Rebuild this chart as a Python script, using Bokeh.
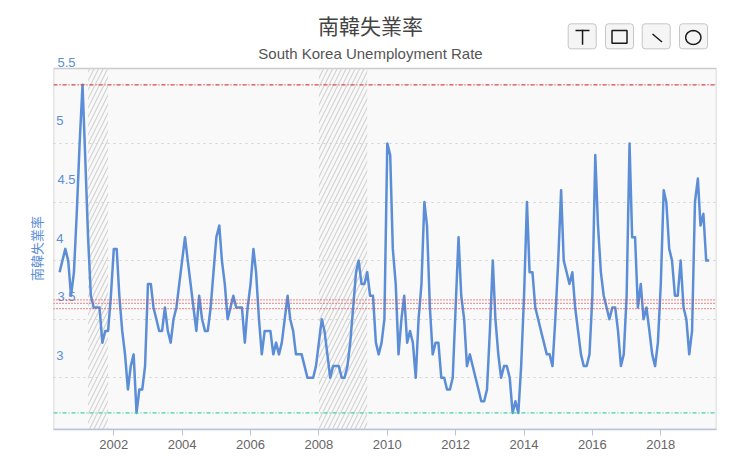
import math
import pandas as pd
from bokeh.plotting import figure
from bokeh.layouts import row
from bokeh.models import (Range1d, LinearAxis, FixedTicker, Span, BoxAnnotation,
                          PolyAnnotation, Label, DatetimeTickFormatter, NumeralTickFormatter)
from bokeh.embed import file_html
from bokeh.resources import INLINE

# ---------------- data ----------------
title_zh = "南韓失業率"
subtitle_en = "South Korea Unemployment Rate"
axis_name = "南韓失業率"
start_month = "2000-06-01"

rate_2000 = [3.9, 4.0, 4.1, 4.0, 3.7, 3.9, 4.4]
rate_2001 = [5.0, 5.5, 4.9, 4.2, 3.7, 3.6, 3.6, 3.6, 3.3, 3.4, 3.4, 3.7]
rate_2002 = [4.1, 4.1, 3.7, 3.4, 3.2, 2.9, 3.1, 3.2, 2.7, 2.9, 2.9, 3.1]
rate_2003 = [3.8, 3.8, 3.6, 3.5, 3.4, 3.4, 3.6, 3.4, 3.3, 3.5, 3.6, 3.8]
rate_2004 = [4.0, 4.2, 4.0, 3.8, 3.6, 3.4, 3.7, 3.5, 3.4, 3.4, 3.6, 3.9]
rate_2005 = [4.2, 4.3, 4.0, 3.8, 3.5, 3.6, 3.7, 3.6, 3.6, 3.6, 3.3, 3.6]
rate_2006 = [3.8, 4.1, 3.9, 3.5, 3.2, 3.4, 3.4, 3.4, 3.2, 3.3, 3.2, 3.3]
rate_2007 = [3.5, 3.7, 3.5, 3.4, 3.2, 3.2, 3.2, 3.1, 3.0, 3.0, 3.0, 3.1]
rate_2008 = [3.3, 3.5, 3.4, 3.2, 3.0, 3.1, 3.1, 3.1, 3.0, 3.0, 3.1, 3.3]
rate_2009 = [3.6, 3.9, 4.0, 3.8, 3.8, 3.9, 3.7, 3.7, 3.3, 3.2, 3.3, 3.5]
rate_2010 = [5.0, 4.9, 4.1, 3.8, 3.2, 3.5, 3.7, 3.3, 3.4, 3.3, 3.0, 3.5]
rate_2011 = [3.8, 4.5, 4.3, 3.6, 3.2, 3.3, 3.3, 3.0, 3.0, 2.9, 2.9, 3.0]
rate_2012 = [3.6, 4.2, 3.7, 3.5, 3.1, 3.2, 3.1, 3.0, 2.9, 2.8, 2.8, 2.9]
rate_2013 = [3.4, 4.0, 3.5, 3.2, 3.0, 3.1, 3.1, 3.0, 2.7, 2.8, 2.7, 3.1]
rate_2014 = [3.7, 4.5, 3.9, 3.9, 3.6, 3.5, 3.4, 3.3, 3.2, 3.2, 3.1, 3.5]
rate_2015 = [4.0, 4.6, 4.0, 3.9, 3.8, 3.9, 3.6, 3.4, 3.2, 3.1, 3.1, 3.2]
rate_2016 = [3.7, 4.9, 4.3, 3.9, 3.7, 3.6, 3.5, 3.6, 3.6, 3.4, 3.1, 3.2]
rate_2017 = [3.7, 5.0, 4.2, 4.2, 3.6, 3.8, 3.5, 3.6, 3.4, 3.2, 3.1, 3.3]
rate_2018 = [3.8, 4.6, 4.5, 4.1, 4.0, 3.7, 3.7, 4.0, 3.6, 3.5, 3.2, 3.4]
rate_2019 = [4.5, 4.7, 4.3, 4.4, 4.0, 4.0]

rate = (rate_2000 + rate_2001 + rate_2002 + rate_2003 + rate_2004 + rate_2005 +
        rate_2006 + rate_2007 + rate_2008 + rate_2009 + rate_2010 + rate_2011 +
        rate_2012 + rate_2013 + rate_2014 + rate_2015 + rate_2016 + rate_2017 +
        rate_2018 + rate_2019)
months = pd.date_range(start_month, periods=len(rate), freq="MS")

y_ticks_wide = [3.5, 4.5, 5.5]
y_ticks_narrow = [3, 4, 5]
y_ticks = sorted(y_ticks_wide + y_ticks_narrow)
x_tick_years = [2002, 2004, 2006, 2008, 2010, 2012, 2014, 2016, 2018]
recessions = [("2001-04-01", "2001-11-01"), ("2008-01-01", "2009-06-01")]
mid_levels = [3.59, 3.635, 3.665]
max_level = max(rate)
min_level = min(rate)

# ---------------- layout (page pixels) ----------------
W, H = 740, 457
FL, FR, FT, FB = 53, 716, 0, 429
VIS_TOP = 68
PPU = 117.2
Y3 = 377.3
ys = 3 - (FB - Y3) / PPU
ye = 3 + (Y3 - FT) / PPU
vis_top_val = 3 + (Y3 - VIS_TOP) / PPU
label_shift = 22.5 / PPU


def ms(s):
    return pd.Timestamp(s).value / 1e6


px2002, px2018 = 113.3, 660.3
mpp = (ms("2018-01-01") - ms("2002-01-01")) / (px2018 - px2002)
xs = ms("2002-01-01") - (px2002 - FL) * mpp
xe = ms("2018-01-01") + (FR - px2018) * mpp

BLUE = "#5b8ed6"

# narrow strip on the left carrying the y-axis name (its frame is aligned with the chart's)
p_name = figure(width=FL, height=H, x_range=Range1d(0, FL), y_range=Range1d(0, H),
                x_axis_location=None, y_axis_location=None, min_border=0,
                output_backend="svg", toolbar_location=None,
                outline_line_color=None, background_fill_color="white",
                border_fill_color="white")
p_name.grid.visible = False
p_name.add_layout(Label(x=35.5, y=FB - 248, x_units="screen", y_units="screen",
                        text=axis_name, angle=math.pi / 2, text_align="center",
                        text_baseline="middle", text_font="Noto Sans CJK TC",
                        text_font_size="13px", text_color=BLUE))

p = figure(width=W - FL, height=H, x_axis_type="datetime", y_axis_location=None,
           x_range=Range1d(xs, xe), y_range=Range1d(ys, ye),
           min_border_left=0, min_border_right=W - FR, min_border_top=FT,
           min_border_bottom=H - FB, output_backend="svg", toolbar_location=None,
           background_fill_color="white", border_fill_color="white",
           outline_line_color=None)


def sx(cx):
    return cx - FL


def sy(cy):
    return FB - cy


def sbox(l, r, t, b, **kw):
    return BoxAnnotation(left=sx(l), right=sx(r), top=sy(t), bottom=sy(b),
                         left_units="screen", right_units="screen",
                         top_units="screen", bottom_units="screen", **kw)


# plot area background
p.add_layout(sbox(FL, FR, VIS_TOP, FB, fill_color="#f9f9f9", fill_alpha=1,
                  line_color="#cccccc", line_alpha=1, line_width=1.5, level="image"))

# grid
p.xgrid.grid_line_color = None
p.ygrid.ticker = FixedTicker(ticks=y_ticks)
p.ygrid.grid_line_color = "#cfcfcf"
p.ygrid.grid_line_dash = "2 4"
p.ygrid.grid_line_width = 1

# recession hatch bands
for a, b in recessions:
    p.add_layout(BoxAnnotation(left=ms(a), right=ms(b), bottom=ys, top=vis_top_val,
                               fill_color=None, line_color=None,
                               hatch_pattern="/", hatch_color="#d4d4d4",
                               hatch_scale=9, hatch_weight=1.2, level="underlay"))

# reference lines
p.add_layout(Span(location=max_level, dimension="width", line_color="#e4474d",
                  line_width=1.2, line_dash="4 2 1 2"))
p.add_layout(Span(location=min_level, dimension="width", line_color="#3fd4a5",
                  line_width=1.2, line_dash="4 2 1 2"))
for lv in mid_levels:
    p.add_layout(Span(location=lv, dimension="width", line_color="#d9434b",
                      line_width=1.2, line_dash="1 2"))

# series
p.line(months, rate, line_color=BLUE, line_width=2.5, line_join="round")

# x axis
xax = p.xaxis[0]
xax.ticker = FixedTicker(ticks=[ms(f"{y}-01-01") for y in x_tick_years])
xax.formatter = DatetimeTickFormatter(years="%Y", months="%Y", days="%Y")
xax.axis_line_color = "#b7c3dc"
xax.axis_line_width = 1.5
xax.major_tick_line_color = "#b7c3dc"
xax.major_tick_out = 6
xax.major_tick_in = 0
xax.minor_tick_line_color = None
xax.major_label_standoff = 4
xax.major_label_text_color = "#666666"
xax.major_label_text_font = "Liberation Sans"
xax.major_label_text_font_size = "13px"

# y axes: tick labels drawn inside the plot, shifted up like the original
p.extra_y_ranges = {"lab": Range1d(ys - label_shift, ye - label_shift)}
common = dict(y_range_name="lab", formatter=NumeralTickFormatter(format="0.[0]"),
              axis_line_color=None, major_tick_line_color=None,
              minor_tick_line_color=None, major_tick_out=0, major_tick_in=0,
              minor_tick_out=0, minor_tick_in=0,
              major_label_text_color=BLUE, major_label_text_font="Liberation Sans",
              major_label_text_font_size="13px")
ax_wide = LinearAxis(ticker=FixedTicker(ticks=y_ticks_wide), major_label_standoff=-22, **common)
ax_narrow = LinearAxis(ticker=FixedTicker(ticks=y_ticks_narrow), major_label_standoff=-10, **common)
p.add_layout(ax_wide, "left")
p.add_layout(ax_narrow, "left")

# titles
p.add_layout(Label(x=sx(370), y=sy(24.5), x_units="screen", y_units="screen",
                   text=title_zh, text_align="center", text_baseline="alphabetic",
                   text_font="Noto Sans CJK TC", text_font_size="21px",
                   text_color="#444444"))
p.add_layout(Label(x=sx(370), y=sy(52.5), x_units="screen", y_units="screen",
                   text=subtitle_en, text_align="center", text_baseline="alphabetic",
                   text_font="Liberation Sans", text_font_size="15px",
                   text_color="#555555"))

# toolbox-like buttons (decoration)
for bl in [567.7, 605.0, 641.7, 679.0]:
    p.add_layout(sbox(bl, bl + 28, 23.3, 48.3, fill_color="#f5f5f5", fill_alpha=1,
                      line_color="#c6c6c6", line_alpha=1, line_width=1, border_radius=3))
ICON = "#1a1a1a"
p.add_layout(sbox(575, 589, 29.3, 30.8, fill_color=ICON, fill_alpha=1, line_color=None))
p.add_layout(sbox(581.3, 582.8, 29.3, 44.3, fill_color=ICON, fill_alpha=1, line_color=None))
p.add_layout(sbox(611.5, 626.5, 30.0, 42.8, fill_color=None, line_color=ICON,
                  line_alpha=1, line_width=1.5))
p.add_layout(PolyAnnotation(xs=[sx(652), sx(661.5)], ys=[sy(33.5), sy(41.5)],
                            xs_units="screen", ys_units="screen",
                            fill_color=None, line_color=ICON, line_alpha=1, line_width=1.5))
ccx, ccy, rx, ry = 692.8, 37.0, 7.6, 6.9
pts = [2 * math.pi * k / 48 for k in range(48)]
p.add_layout(PolyAnnotation(xs=[sx(ccx + rx * math.cos(t)) for t in pts],
                            ys=[sy(ccy + ry * math.sin(t)) for t in pts],
                            xs_units="screen", ys_units="screen",
                            fill_color=None, line_color=ICON, line_alpha=1, line_width=1.5))

layout = row(p_name, p)
open("out.html", "w").write(file_html(layout, INLINE))
